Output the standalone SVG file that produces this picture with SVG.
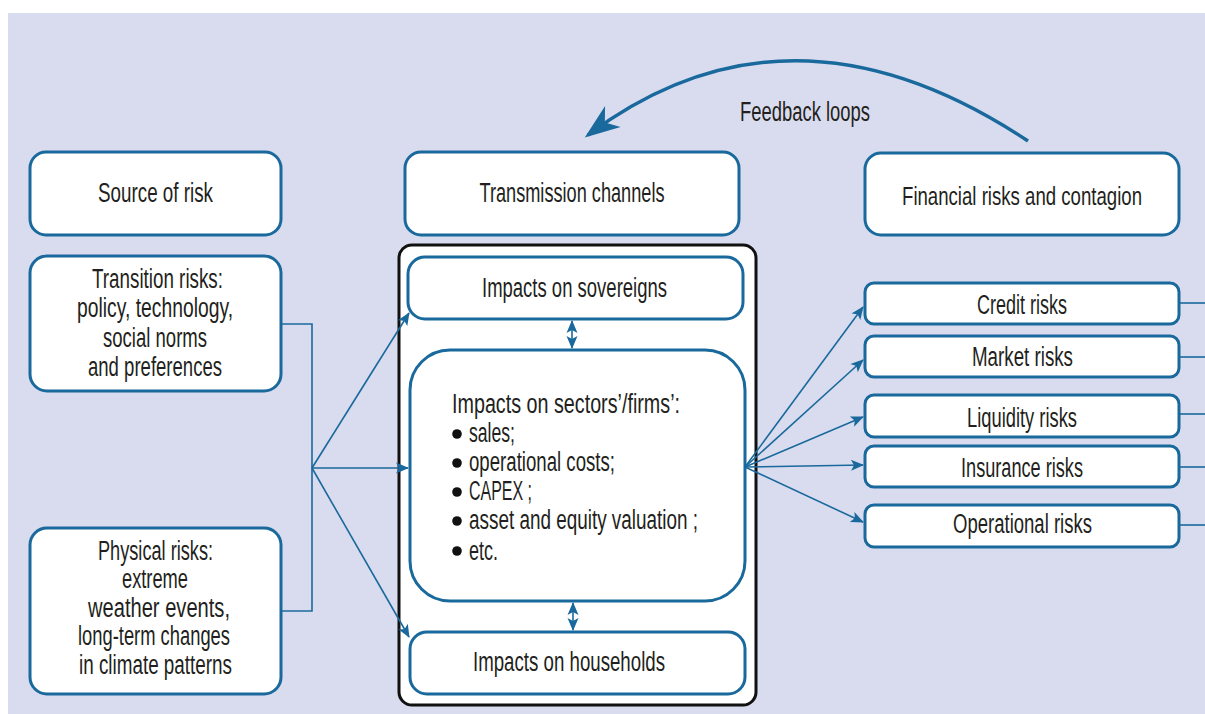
<svg xmlns="http://www.w3.org/2000/svg" width="1205" height="714" viewBox="0 0 1205 714">
<style>
.bg{fill:#d9dcee}
.box{fill:#ffffff;stroke:#1a699d;stroke-width:3}
.outer{fill:#ffffff;stroke:#111111;stroke-width:3}
.t{font-family:"Liberation Sans","Arial",sans-serif;font-size:27px;fill:#231f20}
.c{text-anchor:middle}
.ln{fill:none;stroke:#1a699d;stroke-width:1.6}
.fb{fill:none;stroke:#1a699d;stroke-width:3.5}
.dot{fill:#111111}
</style>
<defs>
<marker id="ah" markerUnits="userSpaceOnUse" markerWidth="16" markerHeight="14" viewBox="-14 -7 16 14" refX="-1" refY="0" orient="auto-start-reverse">
<path d="M0,0 L-13,-5.5 L-10,0 L-13,5.5 Z" fill="#1a699d"/>
</marker>
<marker id="big" markerUnits="userSpaceOnUse" markerWidth="40" markerHeight="32" viewBox="-36 -16 40 32" refX="-4" refY="0" orient="auto">
<path d="M0,0 L-35,-13 L-25,0 L-35,13 Z" fill="#1a699d"/>
</marker>
</defs>
<rect x="0" y="0" width="1205" height="714" fill="#ffffff"/>
<rect class="bg" x="8" y="13" width="1197" height="701"/>

<text class="t" x="740" y="121" textLength="130" lengthAdjust="spacingAndGlyphs">Feedback loops</text>

<g id="source-of-risk">
<rect class="box" x="30" y="152" width="251" height="83" rx="16"/>
<text class="t c" x="155.5" y="202" textLength="115" lengthAdjust="spacingAndGlyphs">Source of risk</text>
</g>
<g id="transition-risks">
<rect class="box" x="30" y="256" width="251" height="135" rx="17"/>
<text class="t c" x="157.5" y="288" textLength="131" lengthAdjust="spacingAndGlyphs">Transition risks:</text>
<text class="t c" x="155" y="317" textLength="156" lengthAdjust="spacingAndGlyphs">policy, technology,</text>
<text class="t c" x="155" y="347" textLength="104" lengthAdjust="spacingAndGlyphs">social norms</text>
<text class="t c" x="155" y="376" textLength="134" lengthAdjust="spacingAndGlyphs">and preferences</text>
</g>
<g id="physical-risks">
<rect class="box" x="30" y="528" width="251" height="166" rx="17"/>
<text class="t c" x="155.5" y="560" textLength="115" lengthAdjust="spacingAndGlyphs">Physical risks:</text>
<text class="t c" x="155" y="588" textLength="66" lengthAdjust="spacingAndGlyphs">extreme</text>
<text class="t c" x="159" y="617" textLength="142" lengthAdjust="spacingAndGlyphs">weather events,</text>
<text class="t c" x="154" y="645" textLength="152" lengthAdjust="spacingAndGlyphs">long-term changes</text>
<text class="t c" x="155.5" y="674" textLength="153" lengthAdjust="spacingAndGlyphs">in climate patterns</text>
</g>

<g id="transmission-channels">
<rect class="box" x="405" y="152" width="334" height="83" rx="16"/>
<text class="t c" x="572" y="202" textLength="185" lengthAdjust="spacingAndGlyphs">Transmission channels</text>
</g>
<g id="channels-frame">
<rect class="outer" x="399" y="245" width="357" height="460" rx="13"/>
</g>
<g id="impacts-sovereigns">
<rect class="box" x="408" y="257" width="335" height="62" rx="17"/>
<text class="t c" x="574.5" y="297" textLength="185" lengthAdjust="spacingAndGlyphs">Impacts on sovereigns</text>
</g>
<g id="impacts-sectors">
<rect class="box" x="410" y="350" width="335" height="251" rx="40"/>
<text class="t" x="452" y="413" textLength="228" lengthAdjust="spacingAndGlyphs">Impacts on sectors’/firms’:</text>
<circle class="dot" cx="457" cy="434" r="4.8"/>
<text class="t" x="469" y="442" textLength="46" lengthAdjust="spacingAndGlyphs">sales;</text>
<circle class="dot" cx="457" cy="463" r="4.8"/>
<text class="t" x="469" y="471" textLength="146" lengthAdjust="spacingAndGlyphs">operational costs;</text>
<circle class="dot" cx="457" cy="492" r="4.8"/>
<text class="t" x="469" y="500" textLength="63" lengthAdjust="spacingAndGlyphs">CAPEX ;</text>
<circle class="dot" cx="457" cy="521" r="4.8"/>
<text class="t" x="469" y="529" textLength="229" lengthAdjust="spacingAndGlyphs">asset and equity valuation ;</text>
<circle class="dot" cx="457" cy="551" r="4.8"/>
<text class="t" x="469" y="560" textLength="29" lengthAdjust="spacingAndGlyphs">etc.</text>
</g>
<g id="impacts-households">
<rect class="box" x="410" y="632" width="335" height="62" rx="17"/>
<text class="t c" x="569" y="671" textLength="192" lengthAdjust="spacingAndGlyphs">Impacts on households</text>
</g>

<g id="financial-risks">
<rect class="box" x="865" y="153" width="314" height="82" rx="16"/>
<text class="t c" x="0" y="0" transform="translate(1022,205) scale(1,1.2)" style="font-size:22px" textLength="240" lengthAdjust="spacingAndGlyphs">Financial risks and contagion</text>
</g>
<g id="credit-risks">
<rect class="box" x="865" y="283" width="314" height="41" rx="9"/>
<text class="t c" x="1022" y="314" textLength="90" lengthAdjust="spacingAndGlyphs">Credit risks</text>
</g>
<g id="market-risks">
<rect class="box" x="865" y="336" width="314" height="41" rx="9"/>
<text class="t c" x="1022.5" y="366" textLength="101" lengthAdjust="spacingAndGlyphs">Market risks</text>
</g>
<g id="liquidity-risks">
<rect class="box" x="865" y="395" width="314" height="42" rx="9"/>
<text class="t c" x="1022" y="427" textLength="110" lengthAdjust="spacingAndGlyphs">Liquidity risks</text>
</g>
<g id="insurance-risks">
<rect class="box" x="865" y="446" width="314" height="41" rx="9"/>
<text class="t c" x="1022" y="477" textLength="122" lengthAdjust="spacingAndGlyphs">Insurance risks</text>
</g>
<g id="operational-risks">
<rect class="box" x="865" y="505" width="314" height="42" rx="9"/>
<text class="t c" x="1022.5" y="533" textLength="139" lengthAdjust="spacingAndGlyphs">Operational risks</text>
</g>

<g id="connectors">
<path class="fb" d="M1028,141 Q791,-16.5 588,135" marker-end="url(#big)"/>
<path class="ln" d="M281,324 H312 V611 H281"/>
<line class="ln" x1="312" y1="468" x2="409" y2="313" marker-end="url(#ah)"/>
<line class="ln" x1="312" y1="468" x2="408" y2="468" marker-end="url(#ah)"/>
<line class="ln" x1="312" y1="468" x2="409" y2="637" marker-end="url(#ah)"/>
<line class="ln" x1="745" y1="467" x2="863" y2="307" marker-end="url(#ah)"/>
<line class="ln" x1="745" y1="467" x2="863" y2="360" marker-end="url(#ah)"/>
<line class="ln" x1="745" y1="467" x2="863" y2="417" marker-end="url(#ah)"/>
<line class="ln" x1="745" y1="467" x2="863" y2="465" marker-end="url(#ah)"/>
<line class="ln" x1="745" y1="467" x2="863" y2="522" marker-end="url(#ah)"/>
<line class="ln" x1="572" y1="321" x2="572" y2="348" marker-start="url(#ah)" marker-end="url(#ah)"/>
<line class="ln" x1="573" y1="603" x2="573" y2="630" marker-start="url(#ah)" marker-end="url(#ah)"/>
<line class="ln" x1="1180" y1="303" x2="1205" y2="303"/>
<line class="ln" x1="1180" y1="357" x2="1205" y2="357"/>
<line class="ln" x1="1180" y1="414" x2="1205" y2="414"/>
<line class="ln" x1="1180" y1="467" x2="1205" y2="467"/>
<line class="ln" x1="1180" y1="525" x2="1205" y2="525"/>
</g>
</svg>
